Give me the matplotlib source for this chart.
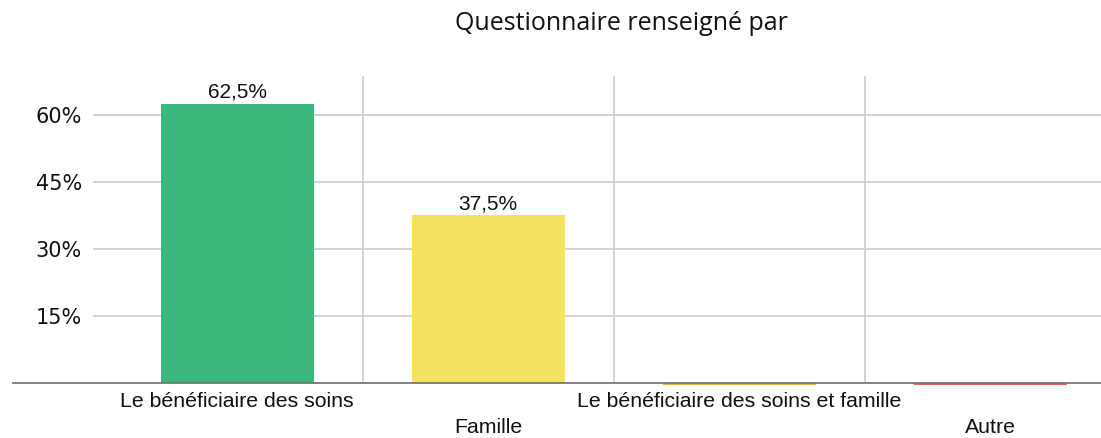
import matplotlib
matplotlib.use("Agg")
import matplotlib.pyplot as plt
from matplotlib.lines import Line2D
import matplotlib.transforms as mtransforms

categories = ["Le bénéficiaire des soins", "Famille",
              "Le bénéficiaire des soins et famille", "Autre"]
values = [62.5, 37.5, 0.0, 0.0]
value_labels = ["62,5%", "37,5%", "", ""]
colors = ["#3AB77A", "#F5E261", "#F2B04F", "#E0675A"]
yticks = [15, 30, 45, 60]
ytick_labels = ["15%", "30%", "45%", "60%"]
title = "Questionnaire renseigné par"

W, H = 1101, 438
fig = plt.figure(figsize=(W / 100, H / 100), dpi=100)
ax = fig.add_axes([93 / W, 1 - 383 / H, 1 - 93 / W, (383 - 76) / H])

x = list(range(len(categories)))
ax.set_xlim(-0.574, 3.442)
ax.set_ylim(0, 68.7)

# grid
for yv in yticks:
    ax.axhline(yv, color="#CCCCCC", lw=1.2, zorder=0)
for xv in [0.5, 1.5, 2.5]:
    ax.axvline(xv, color="#CCCCCC", lw=1.2, zorder=0)

bars = ax.bar(x, values, width=0.61, color=colors, zorder=2)
for i, (v, c) in enumerate(zip(values, colors)):
    if v == 0:
        ax.bar([i], [-0.5], width=0.61, color=c, zorder=3, clip_on=False)

for b, lab in zip(bars, value_labels):
    if lab:
        ax.annotate(lab, (b.get_x() + b.get_width() / 2, b.get_height()),
                    xytext=(0, 1.5), textcoords="offset points",
                    ha="center", va="bottom", fontsize=15,
                    family="Liberation Sans", color="#111111")

# baseline extending to the left
base = Line2D([13 / W, 1.0], [1 - 383 / H, 1 - 383 / H], transform=fig.transFigure,
              color="#777777", lw=1.3, zorder=4, clip_on=False)
ax.add_artist(base)

for s in ax.spines.values():
    s.set_visible(False)

ax.set_yticks(yticks)
ax.set_yticklabels(ytick_labels, fontsize=15, family="DejaVu Sans", color="#111111")
ax.tick_params(axis="y", length=0, pad=8)
ax.set_xticks([])

trans = mtransforms.blended_transform_factory(ax.transData, fig.transFigure)
for i, cat in enumerate(categories):
    yb = 407 if i % 2 == 0 else 433
    ax.text(i, 1 - yb / H, cat, transform=trans, ha="center", va="baseline",
            fontsize=15.3, family="Liberation Sans", color="#111111")

fig.text(621 / W, 1 - 24 / H, title, ha="center", va="center",
         fontsize=18, family="Open Sans", color="#111111")

fig.savefig("out.png", dpi=100)
